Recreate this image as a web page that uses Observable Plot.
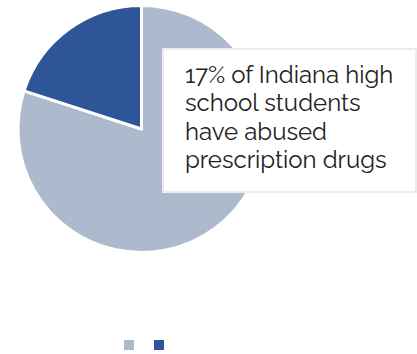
<!DOCTYPE html>
<html><head><meta charset="utf-8">
<script src="https://cdn.jsdelivr.net/npm/d3@7"></script>
<script src="https://cdn.jsdelivr.net/npm/@observablehq/plot@0.6"></script>
<style>
body{margin:0;background:#fff;}
#wrap{position:relative;width:417px;height:354px;overflow:hidden;}
#note{position:absolute;left:162px;top:48px;width:255px;height:145px;background:#fff;border:2px solid #ececec;box-sizing:border-box;}
#note div{position:absolute;left:21px;top:11px;font-family:Raleway,"Open Sans",sans-serif;font-size:24px;line-height:28.3px;color:#222;white-space:nowrap;}
#legend{position:absolute;left:124px;top:340px;}
.lg-swatches{min-height:10px !important;margin:0 !important;}
.lg-swatch{margin-right:20px !important;}
.lg-swatch > svg{margin-right:0 !important;}
</style>
</head><body>
<div id="wrap"></div>
<script>
const categories = ["Have not abused", "Have abused prescription drugs"];
const shares = [80, 20];
const colors = ["#adb9cd", "#2e5597"];
const noteLines = ["17% of Indiana high", "school students", "have abused", "prescription drugs"];

const data = categories.map((c, i) => ({cat: c, value: shares[i]}));
const colorOpts = {type: "ordinal", domain: categories, range: colors};
const color = Plot.scale({color: colorOpts});

function pieMark(index, scales, values, dims) {
  const {width, height, marginTop, marginRight, marginBottom, marginLeft} = dims;
  const w = width - marginLeft - marginRight, h = height - marginTop - marginBottom;
  const r = Math.min(w, h) / 2;
  const cx = marginLeft + w / 2, cy = marginTop + h / 2;
  const arcs = d3.pie().sort(null).value(d => d.value)(data);
  const arc = d3.arc().innerRadius(0).outerRadius(r);
  const g = d3.create("svg:g").attr("transform", `translate(${cx},${cy})`);
  g.selectAll("path").data(arcs).join("path")
    .attr("d", arc)
    .attr("fill", d => color.apply(d.data.cat))
    .attr("stroke", "#fff").attr("stroke-width", 3).attr("stroke-linejoin", "round");
  return g.node();
}

const W = 417, H = 330, D = 247;
const chart = Plot.plot({
  width: W, height: H,
  marginLeft: 18, marginTop: 5.5,
  marginRight: W - 18 - D, marginBottom: H - 5.5 - D,
  x: {axis: null}, y: {axis: null},
  marks: [pieMark]
});
const wrap = document.getElementById("wrap");
wrap.appendChild(chart);

const note = document.createElement("div");
note.id = "note";
const inner = document.createElement("div");
inner.innerHTML = noteLines.join("<br>");
note.appendChild(inner);
wrap.appendChild(note);

const legend = Plot.legend({color: colorOpts, swatchSize: 10, tickFormat: () => "", className: "lg"});
const lw = document.createElement("div");
lw.id = "legend";
lw.appendChild(legend);
wrap.appendChild(lw);
</script>
</body></html>
